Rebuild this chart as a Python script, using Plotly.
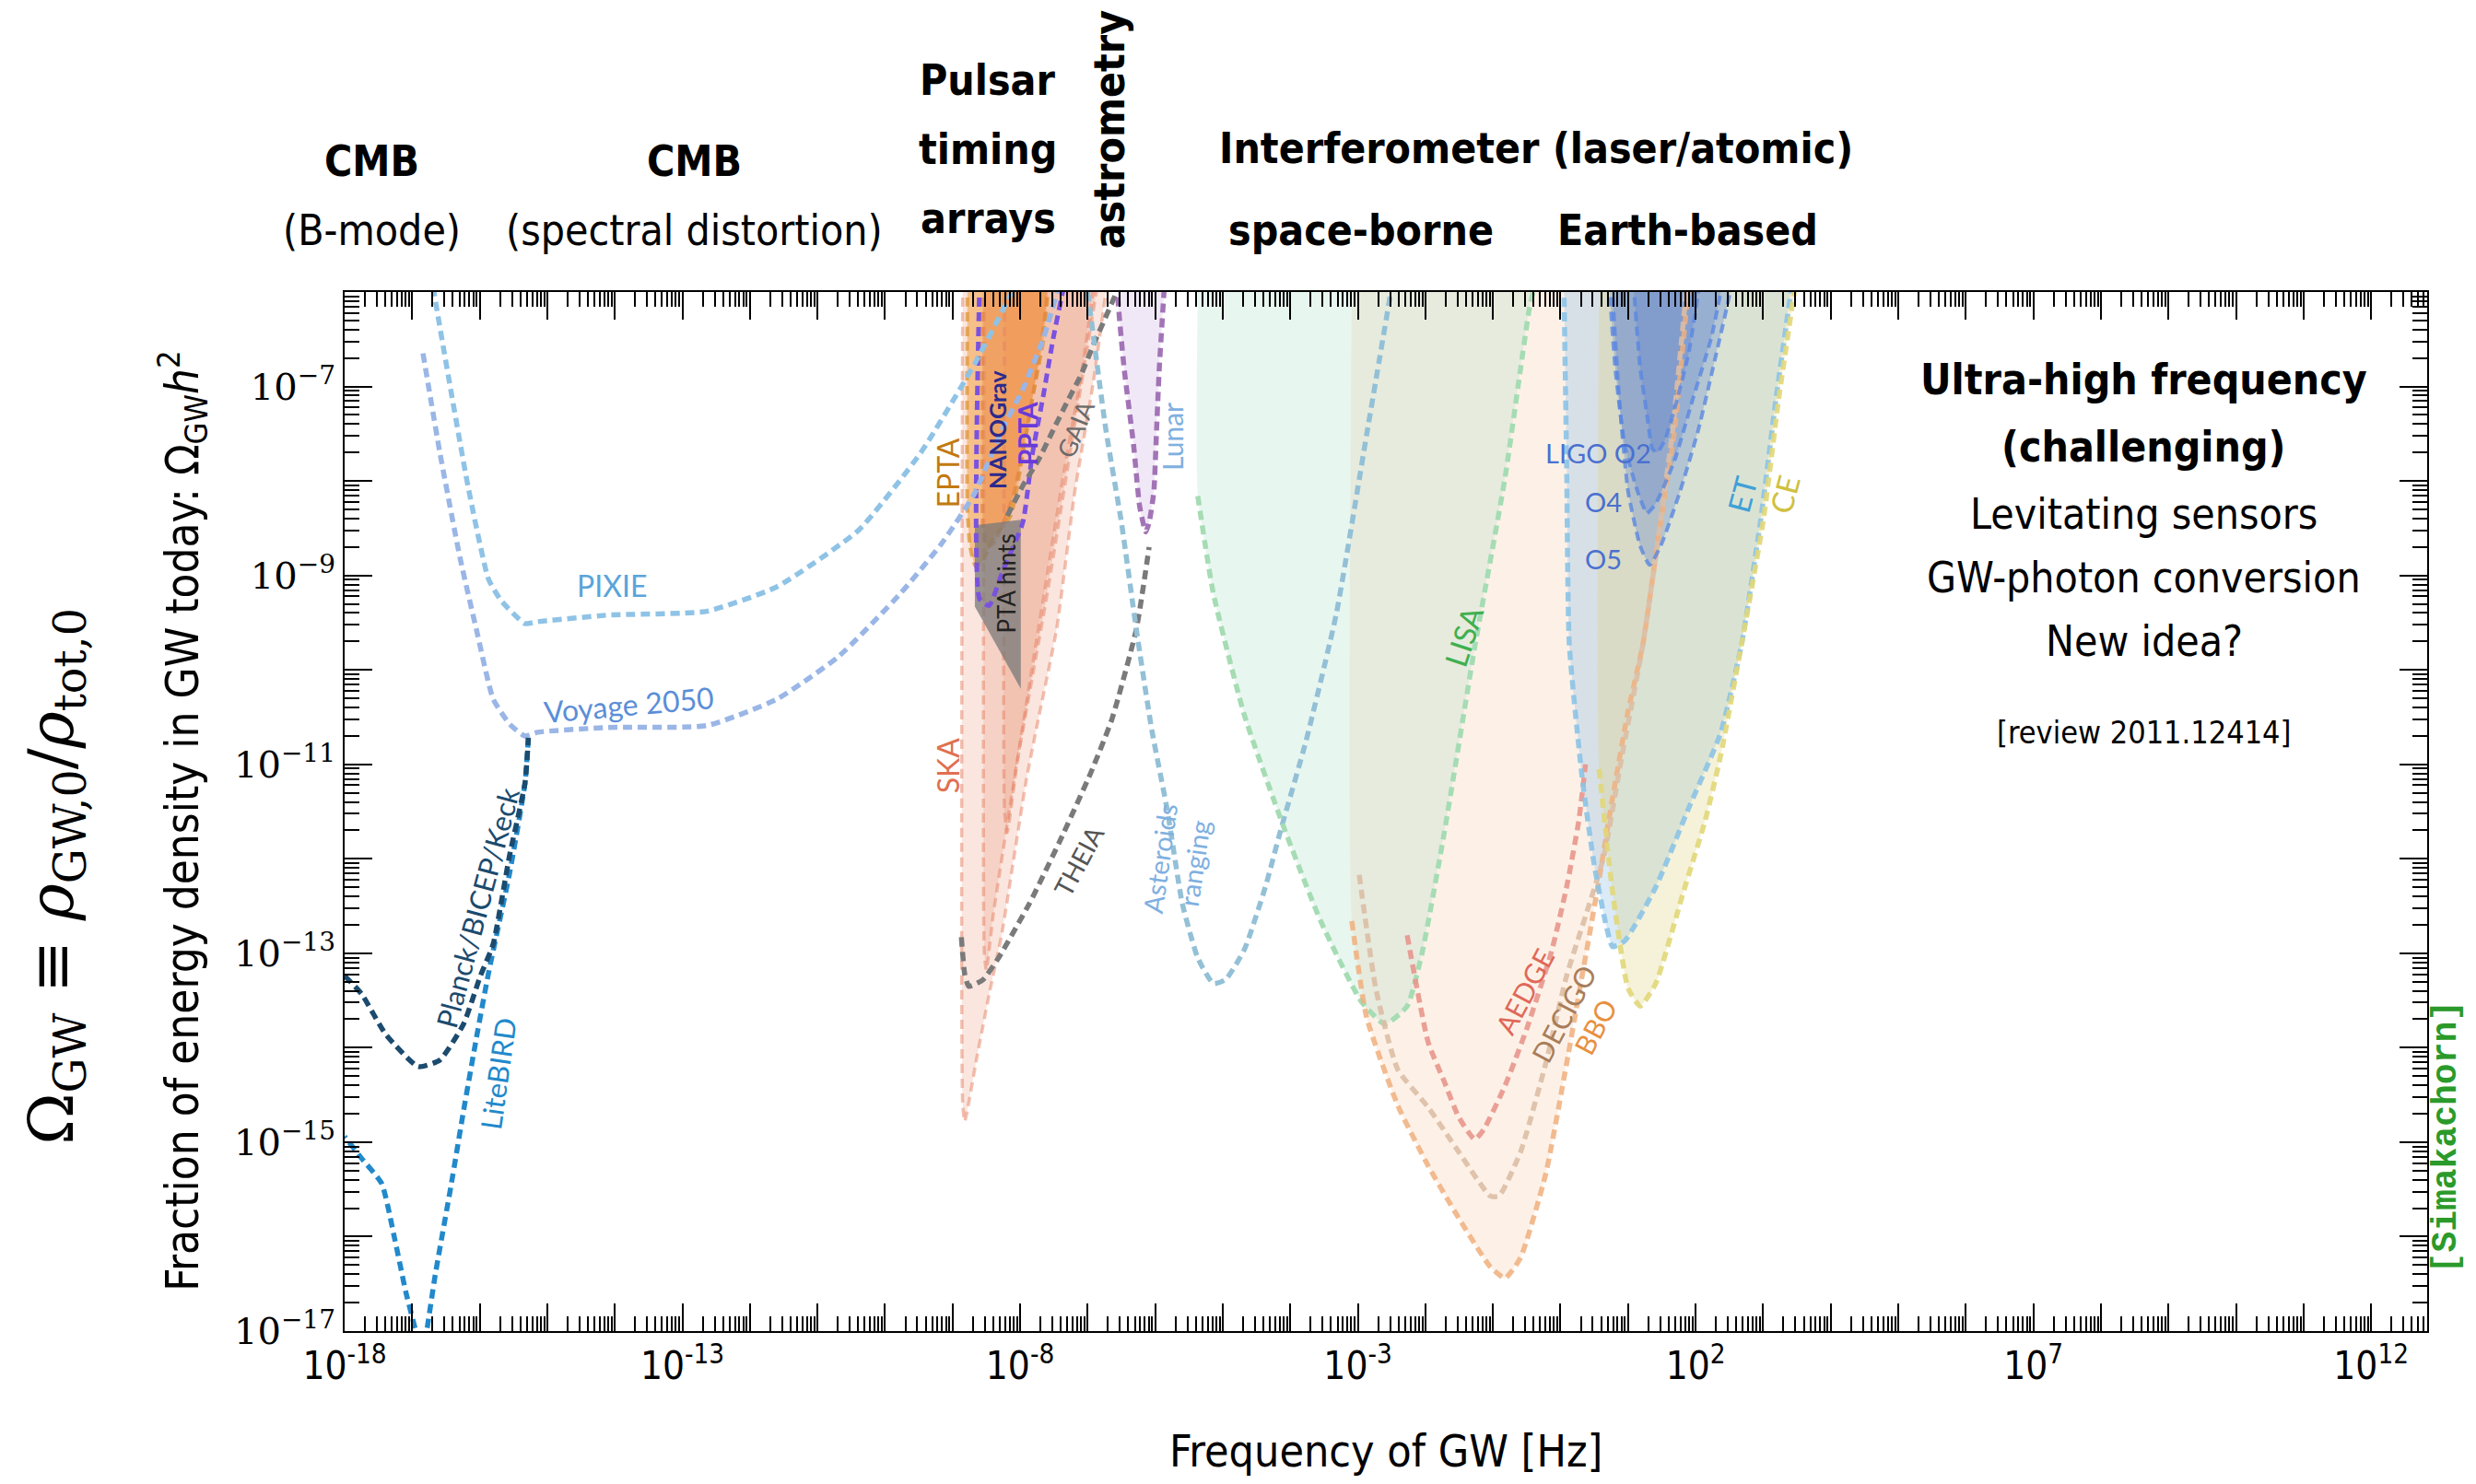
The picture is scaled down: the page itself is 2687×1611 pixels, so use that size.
import plotly.graph_objects as go

# ---------------- data: log10(f/Hz), log10(Omega_GW h^2) ----------------
pixie_logf = [-16.69, -16.54, -16.17, -15.87, -15.68, -15.33, -15.14, -14.10, -12.64, -11.60, -10.39, -9.47, -8.68, -8.14, -8.05]
pixie_logo = [-5.95, -6.58, -8.07, -9.04, -9.27, -9.51, -9.49, -9.42, -9.38, -9.12, -8.52, -7.70, -6.77, -6.03, -5.9]

voyage_logf = [-16.84, -16.59, -16.29, -16.05, -15.80, -15.55, -15.33, -15.14, -14.10, -12.64, -11.60, -10.69, -9.77, -9.17, -8.68, -8.27, -7.96, -7.65, -7.45, -7.40]
voyage_logo = [-6.65, -7.70, -8.82, -9.57, -10.31, -10.58, -10.70, -10.66, -10.61, -10.59, -10.31, -9.86, -9.19, -8.67, -8.14, -7.46, -7.03, -6.48, -6.0, -5.9]

litebird_logf = [-15.28, -15.33, -15.56, -15.87, -16.05, -16.24, -16.42, -16.66, -16.79, -16.87, -16.94, -17.09, -17.26, -17.45, -17.75, -18.0]
litebird_logo = [-10.72, -11.20, -12.16, -13.21, -13.90, -14.67, -15.44, -16.41, -17.02, -17.3, -17.02, -16.60, -16.02, -15.44, -15.17, -14.94]

planck_logf = [-18.0, -17.75, -17.39, -16.91, -16.59, -16.24, -15.99, -15.80, -15.56, -15.33, -15.28]
planck_logo = [-13.24, -13.43, -13.86, -14.20, -14.13, -13.75, -13.24, -12.90, -11.97, -11.20, -10.72]

ska1_logf = [-8.85, -8.85, -8.82, -8.64, -8.46, -8.27, -8.09, -7.91, -7.73, -7.46, -7.19, -6.92, -6.73, -6.70]
ska1_logo = [-5.9, -14.6, -14.78, -14.10, -13.44, -12.79, -11.98, -11.17, -10.52, -9.57, -8.11, -6.97, -6.0, -5.9]
ska2_logf = [-8.53, -8.53, -8.50, -8.40, -8.25, -8.05, -7.85, -7.60, -7.35, -7.10, -6.85]
ska2_logo = [-5.9, -13.0, -13.18, -12.6, -11.9, -11.0, -10.2, -9.2, -8.1, -7.0, -5.9]
ska3_logf = [-8.23, -8.23, -8.19, -8.05, -7.85, -7.60, -7.35, -7.10, -6.90]
ska3_logo = [-5.9, -11.5, -11.72, -11.0, -10.1, -9.0, -7.9, -6.9, -5.9]

epta_logf = [-8.78, -8.78, -8.74, -8.66, -8.55, -8.40, -8.14, -7.96, -7.82, -7.65, -7.58]
epta_logo = [-5.9, -8.3, -8.7, -8.9, -8.85, -8.6, -8.37, -7.72, -7.13, -6.49, -5.9]
nanograv_logf = [-8.55, -8.55, -8.48, -8.38, -8.25, -8.10, -7.95, -7.80, -7.66, -7.58]
nanograv_logo = [-5.9, -8.5, -8.7, -8.65, -8.45, -8.15, -7.65, -7.05, -6.4, -5.9]
ppta_logf = [-8.60, -8.60, -8.46, -8.26, -7.96, -7.82, -7.65, -7.51, -7.37, -7.34]
ppta_logo = [-5.9, -9.25, -9.32, -8.96, -8.44, -7.72, -7.07, -6.49, -6.0, -5.9]
ptahints_logf = [-8.67, -7.99, -7.99, -8.67]
ptahints_logo = [-8.47, -8.41, -10.20, -9.33]

gaia_logf = [-8.19, -7.96, -7.73, -7.51, -7.28, -7.10, -6.91, -6.73, -6.59, -6.52]
gaia_logo = [-8.37, -8.05, -7.78, -7.46, -7.13, -6.88, -6.55, -6.26, -6.03, -5.9]
theia_logf = [-8.87, -8.82, -8.76, -8.55, -8.32, -7.86, -7.41, -6.96, -6.64, -6.28, -6.09]
theia_logo = [-12.83, -13.22, -13.35, -13.28, -13.05, -12.47, -11.81, -11.10, -10.52, -9.57, -8.70]

lunar_logf = [-6.55, -6.55, -6.46, -6.32, -6.23, -6.14, -6.09, -6.02, -5.98, -5.94, -5.87, -5.86]
lunar_logo = [-5.9, -6.09, -6.81, -7.62, -8.27, -8.54, -8.44, -8.11, -7.46, -6.81, -6.0, -5.9]

asteroid_logf = [-7.00, -6.73, -6.50, -6.28, -6.05, -5.82, -5.60, -5.37, -5.14, -4.96, -4.68, -4.37, -4.14, -3.77, -3.32, -2.87, -2.50]
asteroid_logo = [-6.0, -7.46, -8.44, -9.57, -10.64, -11.49, -12.47, -13.05, -13.32, -13.28, -12.96, -12.30, -11.69, -10.76, -9.41, -7.51, -5.95]

lisa_logf = [-5.37, -5.14, -4.68, -4.10, -3.55, -2.95, -2.60, -2.27, -2.05, -1.72, -1.27, -0.82, -0.46, -0.37]
lisa_logo = [-8.16, -9.19, -10.48, -11.66, -12.66, -13.51, -13.75, -13.56, -13.00, -11.72, -9.76, -7.96, -6.17, -5.9]

bbo_logf = [-3.09, -2.87, -2.41, -1.96, -1.51, -1.04, -0.82, -0.59, -0.22, 0.09, 0.32, 0.54, 0.77, 1.00, 1.22, 1.45, 1.69, 1.89, 1.92]
bbo_logo = [-12.66, -13.68, -14.61, -15.25, -15.80, -16.32, -16.44, -16.22, -15.34, -14.17, -13.24, -12.35, -11.36, -10.44, -9.73, -8.59, -7.46, -6.0, -5.9]
decigo_logf = [-2.98, -2.73, -2.41, -1.96, -1.51, -1.04, -0.91, -0.59, -0.22, 0.09, 0.40, 0.64, 0.91, 1.22, 1.45, 1.66, 1.86]
decigo_logo = [-12.17, -13.39, -14.23, -14.63, -15.10, -15.57, -15.57, -15.10, -14.17, -13.24, -12.54, -11.98, -10.91, -9.73, -8.59, -7.46, -6.0]
aedge_logf = [-2.27, -1.96, -1.72, -1.51, -1.27, -1.14, -0.82, -0.50, -0.14, 0.09, 0.27, 0.37]
aedge_logo = [-12.81, -13.94, -14.36, -14.73, -14.97, -14.87, -14.40, -13.80, -13.00, -12.30, -11.60, -11.0]

et_logf = [0.05, 0.09, 0.13, 0.32, 0.50, 0.68, 0.77, 0.95, 1.41, 1.90, 2.37, 2.68, 2.96, 3.19, 3.41, 3.43]
et_logo = [-5.9, -7.78, -9.73, -11.14, -12.07, -12.72, -12.93, -12.87, -12.30, -11.46, -10.67, -9.73, -8.43, -7.13, -6.0, -5.9]
ce_logf = [0.57, 0.57, 0.77, 1.00, 1.18, 1.41, 1.82, 2.14, 2.37, 2.68, 3.00, 3.23, 3.46, 3.48]
ce_logo = [-5.9, -11.05, -12.35, -13.37, -13.56, -13.32, -12.35, -11.60, -10.91, -9.73, -8.43, -7.13, -6.0, -5.9]

ligo_o2_logf = [1.09, 1.09, 1.18, 1.28, 1.36, 1.43, 1.55, 1.73, 1.90, 2.04, 2.05]
ligo_o2_logo = [-5.9, -6.0, -6.81, -7.30, -7.66, -7.70, -7.56, -7.13, -6.64, -6.0, -5.9]
ligo_o4_logf = [0.73, 0.73, 0.81, 0.95, 1.14, 1.28, 1.41, 1.69, 1.96, 2.23, 2.37, 2.38]
ligo_o4_logo = [-5.9, -6.0, -6.81, -7.62, -8.11, -8.34, -8.24, -7.78, -7.13, -6.49, -6.0, -5.9]
ligo_o5_logf = [0.77, 0.77, 0.87, 1.00, 1.18, 1.32, 1.50, 1.77, 2.04, 2.31, 2.51, 2.52]
ligo_o5_logo = [-5.9, -6.0, -7.13, -8.11, -8.69, -8.89, -8.66, -8.11, -7.46, -6.64, -6.0, -5.9]

x_major_exp = list(range(-18, 13))
x_label_exp = [-18, -13, -8, -3, 2, 7, 12]
y_major_exp = list(range(-17, -5))
y_label_exp = [-17, -15, -13, -11, -9, -7]

# ---------------- figure ----------------
def P(v):
    return [10.0 ** a for a in v]

fig = go.Figure()
DASH = "10px,6px"
SANS = "Liberation Sans Narrow, DejaVu Sans Condensed, Roboto, sans-serif"
LBL = "Lato, Open Sans, sans-serif"


def add_fill(lf, lo, color, spline=True):
    fig.add_trace(go.Scatter(x=P(lf), y=P(lo), mode="lines", fill="toself", fillcolor=color,
                             line=dict(width=0, shape="spline" if spline else "linear", smoothing=0.5),
                             hoverinfo="skip", showlegend=False))


def add_line(lf, lo, color, width=5.5, dash=DASH, spline=True):
    fig.add_trace(go.Scatter(x=P(lf), y=P(lo), mode="lines",
                             line=dict(color=color, width=width, dash=dash,
                                       shape="spline" if spline else "linear", smoothing=0.5),
                             hoverinfo="skip", showlegend=False))


# fills
add_fill([-3.09] + bbo_logf, [-5.9] + bbo_logo, "rgba(245,180,130,0.19)")
add_fill(lisa_logf[:1] + lisa_logf, [-5.9] + lisa_logo, "rgba(165,220,195,0.25)")
add_fill(et_logf, et_logo, "rgba(140,190,230,0.32)")
add_fill(ce_logf, ce_logo, "rgba(220,210,120,0.28)")
add_fill(ligo_o5_logf, ligo_o5_logo, "rgba(80,120,210,0.28)")
add_fill(ligo_o4_logf, ligo_o4_logo, "rgba(80,120,210,0.28)")
add_fill(ligo_o2_logf, ligo_o2_logo, "rgba(80,120,210,0.28)")
add_fill(lunar_logf, lunar_logo, "rgba(215,190,232,0.35)")
add_fill(ska1_logf, ska1_logo, "rgba(232,140,110,0.22)")
add_fill(ska2_logf, ska2_logo, "rgba(232,140,110,0.22)")
add_fill(ska3_logf, ska3_logo, "rgba(232,140,110,0.22)")
add_fill(epta_logf, epta_logo, "rgba(242,160,70,0.55)")
add_fill(nanograv_logf, nanograv_logo, "rgba(235,130,60,0.40)")

# lines
add_line(ska1_logf[:-1], ska1_logo[:-1], "rgba(230,130,100,0.5)", width=3.5)
add_line(ska2_logf, ska2_logo, "rgba(230,130,100,0.5)", width=3.5)
add_line(ska3_logf, ska3_logo, "rgba(230,130,100,0.5)", width=3.5)
add_line(epta_logf, epta_logo, "rgba(220,150,50,0.75)", width=4)
add_line(nanograv_logf, nanograv_logo, "rgba(225,130,60,0.6)", width=4)
add_fill(ptahints_logf + ptahints_logf[:1], ptahints_logo + ptahints_logo[:1], "rgba(120,120,120,0.75)", spline=False)
add_line(ppta_logf, ppta_logo, "#7a52e0", width=5)
add_line(pixie_logf, pixie_logo, "#8fc3e6")
add_line(voyage_logf, voyage_logo, "#9ab6e6")
add_line(litebird_logf, litebird_logo, "#2189cb")
add_line(planck_logf, planck_logo, "#1b4b6e")
add_line(gaia_logf, gaia_logo, "#7a7a7a")
add_line(theia_logf, theia_logo, "#7a7a7a")
add_line(lunar_logf, lunar_logo, "#a274b6")
add_line(asteroid_logf, asteroid_logo, "#93c0d6")
add_line(lisa_logf, lisa_logo, "#a6dcb4")
add_line(bbo_logf, bbo_logo, "rgba(240,175,125,0.85)")
add_line(decigo_logf, decigo_logo, "rgba(220,190,165,0.9)")
add_line(aedge_logf, aedge_logo, "rgba(232,150,140,0.9)")
add_line(et_logf, et_logo, "rgba(140,195,230,0.9)")
add_line(ce_logf[1:], ce_logo[1:], "rgba(225,215,120,0.9)")
add_line(ligo_o5_logf, ligo_o5_logo, "rgba(90,135,225,0.8)", width=4)
add_line(ligo_o4_logf, ligo_o4_logo, "rgba(90,135,225,0.8)", width=4)
add_line(ligo_o2_logf, ligo_o2_logo, "rgba(90,135,225,0.8)", width=4)

# empty trace bound to the twin axes so that their tick marks are drawn
fig.add_trace(go.Scatter(x=[], y=[], xaxis="x2", yaxis="y2", mode="lines",
                         hoverinfo="skip", showlegend=False))


def ann(text, x, y, size, color="black", angle=0, xref="x", yref="y", family=LBL):
    fig.add_annotation(text=text, x=x, y=y, xref=xref, yref=yref, showarrow=False,
                       textangle=angle, xanchor="center", yanchor="middle",
                       font=dict(size=size, color=color, family=family))


# detector labels (log coordinates)
ann("PIXIE", -14.05, -9.11, 32, "#5aa4da")
ann("Voyage 2050", -13.79, -10.36, 32, "#5b8ed8", angle=-5)
ann("Planck/BICEP/Keck", -16.04, -12.52, 31, "#1b4b6e", angle=-75)
ann("LiteBIRD", -15.73, -14.27, 31, "#2189cb", angle=-82)
ann("EPTA", -9.07, -7.92, 32, "#c27a10", angle=-90)
ann("SKA", -9.07, -11.01, 32, "#e07050", angle=-90)
ann("<b>NANOGrav</b>", -8.35, -7.45, 25, "#2c2a8c", angle=-90)
ann("<b>PPTA</b>", -7.90, -7.50, 28, "#6a3ad8", angle=-90)
ann("GAIA", -7.18, -7.45, 27, "#6a6a6a", angle=-68)
ann("PTA hints", -8.21, -9.09, 26, "#222222", angle=-90)
ann("THEIA", -7.13, -12.02, 28, "#555555", angle=-62)
ann("Asteroids<br>ranging", -5.68, -12.02, 29, "#7fb0e0", angle=-82)
ann("Lunar", -5.75, -7.53, 30, "#80b0e0", angle=-90)
ann("LISA", -1.43, -9.64, 33, "#3fb050", angle=-72)
ann("AEDGE", -0.54, -13.40, 30, "#e06858", angle=-62)
ann("DECIGO", 0.05, -13.64, 30, "#a87d5a", angle=-62)
ann("BBO", 0.51, -13.77, 30, "#e89040", angle=-62)
ann("LIGO O2", 0.56, -7.70, 29, "#4a70d0")
ann("O4", 0.63, -8.22, 29, "#4a70d0")
ann("O5", 0.63, -8.82, 29, "#4a70d0")
ann("ET", 2.69, -8.14, 33, "#3fa0d8", angle=-75)
ann("CE", 3.32, -8.14, 33, "#d0c040", angle=-75)

# headers (paper coordinates)
H = 46
ann("<b>CMB</b>", 0.013, 1.126, H, xref="paper", yref="paper", family=SANS)
ann("(B-mode)", 0.013, 1.059, H, xref="paper", yref="paper", family=SANS)
ann("<b>CMB</b>", 0.168, 1.126, H, xref="paper", yref="paper", family=SANS)
ann("(spectral distortion)", 0.168, 1.059, H, xref="paper", yref="paper", family=SANS)
ann("<b>Pulsar</b>", 0.309, 1.204, H, xref="paper", yref="paper", family=SANS)
ann("<b>timing</b>", 0.309, 1.137, H, xref="paper", yref="paper", family=SANS)
ann("<b>arrays</b>", 0.309, 1.071, H, xref="paper", yref="paper", family=SANS)
ann("<b>astrometry</b>", 0.367, 1.157, H, angle=-90, xref="paper", yref="paper", family=SANS)
ann("<b>Interferometer (laser/atomic)</b>", 0.572, 1.138, H, xref="paper", yref="paper", family=SANS)
ann("<b>space-borne</b>", 0.488, 1.059, H, xref="paper", yref="paper", family=SANS)
ann("<b>Earth-based</b>", 0.645, 1.059, H, xref="paper", yref="paper", family=SANS)

ann("<b>Ultra-high frequency</b>", 0.864, 0.916, H, xref="paper", yref="paper", family=SANS)
ann("<b>(challenging)</b>", 0.864, 0.851, H, xref="paper", yref="paper", family=SANS)
ann("Levitating sensors", 0.864, 0.786, H, xref="paper", yref="paper", family=SANS)
ann("GW-photon conversion", 0.864, 0.725, H, xref="paper", yref="paper", family=SANS)
ann("New idea?", 0.864, 0.664, H, xref="paper", yref="paper", family=SANS)
ann("[review 2011.12414]", 0.864, 0.576, 34, xref="paper", yref="paper", family=SANS)

ann("<b>[Simakachorn]</b>", 1.009, 0.187, 38, "#2a9a2a", angle=-90, xref="paper", yref="paper",
    family="Liberation Mono, DejaVu Sans Mono, monospace")

# axis titles
ann("Frequency of GW [Hz]", 0.500, -0.115, 48, xref="paper", yref="paper", family=SANS)
ann("Fraction of energy density in GW today: Ω<sub>GW</sub><i>h</i><sup>2</sup>", -0.078, 0.491, 49,
    angle=-90, xref="paper", yref="paper", family=SANS)
ann("Ω<sub>GW</sub> ≡ <i>ρ</i><sub>GW,0</sub>/<i>ρ</i><sub>tot,0</sub>", -0.139, 0.438, 68,
    angle=-90, xref="paper", yref="paper", family="DejaVu Serif, Liberation Serif, serif")

# axes: primary axes carry the labelled ticks, overlaid twins carry all decade + minor ticks
x_lab_vals = [10.0 ** k for k in x_label_exp]
x_lab_text = [f"10<sup>{k}</sup>" for k in x_label_exp]
x_dec_vals = [10.0 ** k for k in x_major_exp]
x_minor = [m * 10.0 ** k for k in x_major_exp for m in range(2, 10)]
y_lab_vals = [10.0 ** k for k in y_label_exp]
y_lab_text = [f"10<sup>−{-k}</sup>" for k in y_label_exp]
y_dec_vals = [10.0 ** k for k in y_major_exp]
y_minor = [m * 10.0 ** k for k in y_major_exp for m in range(2, 10)]

common = dict(type="log", ticks="inside", ticklen=30, tickwidth=2, tickcolor="black",
              mirror="allticks", showline=True, linecolor="black", linewidth=2,
              showgrid=False, zeroline=False, tickmode="array")
XR = [-18, 12.83]
YR = [-17, -6]

fig.update_layout(
    xaxis=dict(range=XR, tickvals=x_lab_vals, ticktext=x_lab_text,
               tickfont=dict(size=42, family=SANS, color="black"), **common),
    yaxis=dict(range=YR, tickvals=y_lab_vals, ticktext=y_lab_text,
               tickfont=dict(size=40, family="DejaVu Serif, serif", color="black"), **common),
    xaxis2=dict(range=XR, overlaying="x", anchor="y2", side="bottom", tickvals=x_dec_vals,
                showticklabels=False,
                minor=dict(tickmode="array", tickvals=x_minor, ticks="inside", ticklen=16,
                           tickwidth=1.5, tickcolor="black", showgrid=False),
                **common),
    yaxis2=dict(range=YR, overlaying="y", anchor="x2", side="left", tickvals=y_dec_vals,
                showticklabels=False,
                minor=dict(tickmode="array", tickvals=y_minor, ticks="inside", ticklen=16,
                           tickwidth=1.5, tickcolor="black", showgrid=False),
                **common),
    width=2671, height=1595, margin=dict(l=366, r=45, t=309, b=158),
    plot_bgcolor="white", paper_bgcolor="white", showlegend=False)

fig.write_html("out.html")
